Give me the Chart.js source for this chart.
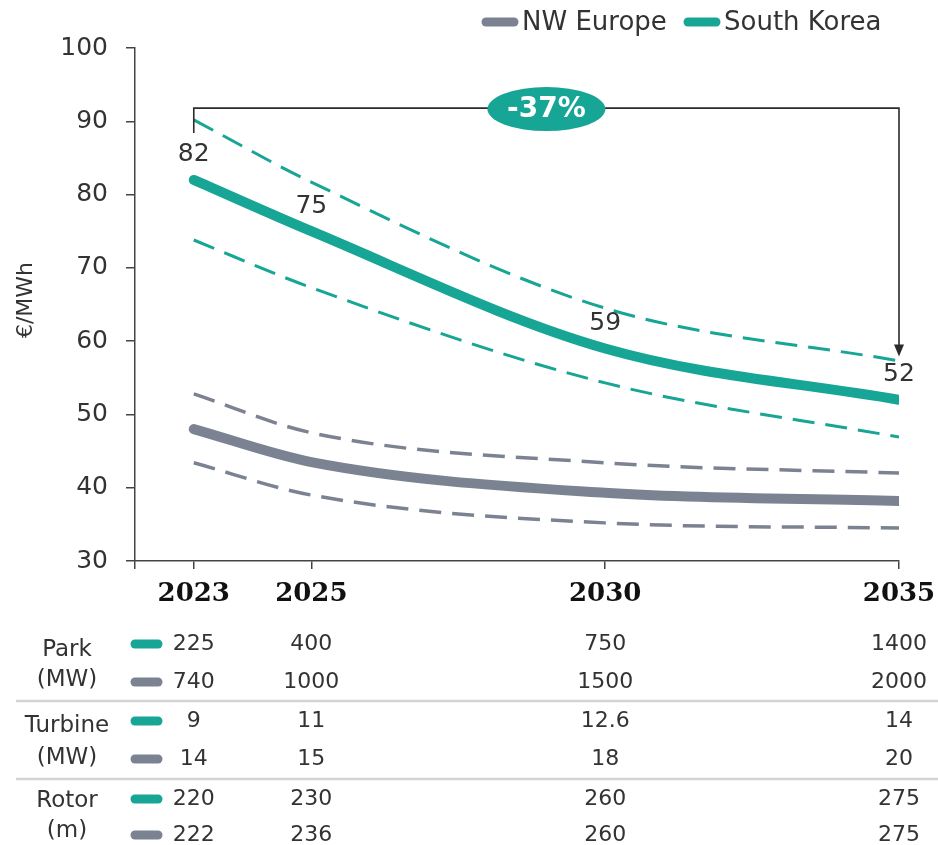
<!DOCTYPE html>
<html>
<head>
<meta charset="utf-8">
<title>Offshore wind LCOE outlook</title>
<script src="https://cdn.jsdelivr.net/npm/chart.js@4/dist/chart.umd.min.js"></script>
<style>
  html, body { margin: 0; padding: 0; background: #ffffff; }
  #wrap { width: 938px; height: 845px; position: relative; }
</style>
</head>
<body>
<div id="wrap"><canvas id="lcoe" width="938" height="845"></canvas></div>
<script>
// Years shown on the axis and in the table columns
const years = [2023, 2025, 2030, 2035];

// Levelised cost of energy, €/MWh (central estimate plus upper/lower band)
const koreaCost  = [82, 75, 59, 52];
const koreaHigh  = [90.2, 81.7, 64.5, 57.3];
const koreaLow   = [73.8, 67.3, 54.3, 46.9];
const europeCost = [48, 43.5, 39.3, 38.2];
const europeHigh = [52.8, 47.5, 43.4, 42.0];
const europeLow  = [43.4, 39.0, 35.2, 34.5];

// Y axis ticks
const costTicks = [30, 40, 50, 60, 70, 80, 90, 100];

// Project parameters table
const parkKorea     = [225, 400, 750, 1400];
const parkEurope    = [740, 1000, 1500, 2000];
const turbineKorea  = [9, 11, 12.6, 14];
const turbineEurope = [14, 15, 18, 20];
const rotorKorea    = [220, 230, 260, 275];
const rotorEurope   = [222, 236, 260, 275];

const groupNames = [['Park', '(MW)'], ['Turbine', '(MW)'], ['Rotor', '(m)']];
const seriesNames = ['NW Europe', 'South Korea'];

const TEAL = '#17a595';
const GREY = '#7b8392';
const INK = '#333333';
const SANS = "'DejaVu Sans', Verdana, sans-serif";

const pts = arr => arr.map((v, i) => ({ x: years[i], y: v }));

function mainLine(label, data, color) {
  return {
    label, data: pts(data), borderColor: color, borderWidth: 10,
    borderCapStyle: 'round', borderJoinStyle: 'round',
    pointRadius: 0, cubicInterpolationMode: 'monotone', clip: 0, order: 0
  };
}
function bandLine(data, color, width) {
  return {
    label: '', data: pts(data), borderColor: color, borderWidth: width,
    borderDash: [22, 11], pointRadius: 0, cubicInterpolationMode: 'monotone',
    clip: 0, order: 1
  };
}

const overlay = {
  id: 'overlay',
  afterDatasetsDraw(chart) {
    const ctx = chart.ctx;
    const xs = chart.scales.x, ys = chart.scales.y;
    ctx.save();

    // value labels on the South Korea line
    ctx.font = '25px ' + SANS;
    ctx.fillStyle = INK;
    ctx.textAlign = 'center';
    ctx.textBaseline = 'middle';
    koreaCost.forEach((v, i) => {
      ctx.fillText(String(v), xs.getPixelForValue(years[i]), ys.getPixelForValue(v) - 25);
    });

    // bracket with arrow showing the 2023→2035 reduction
    const xl = xs.getPixelForValue(years[0]);
    const xr = xs.getPixelForValue(years[years.length - 1]);
    const yTop = ys.getPixelForValue(91.8);
    const yLeft = ys.getPixelForValue(88.4);
    const yTip = ys.getPixelForValue(57.9);
    ctx.strokeStyle = '#2b2b2b';
    ctx.lineWidth = 1.6;
    ctx.beginPath();
    ctx.moveTo(xl, yLeft);
    ctx.lineTo(xl, yTop);
    ctx.lineTo(xr, yTop);
    ctx.lineTo(xr, yTip - 10);
    ctx.stroke();
    ctx.fillStyle = '#2b2b2b';
    ctx.beginPath();
    ctx.moveTo(xr - 5, yTip - 12);
    ctx.lineTo(xr + 5, yTip - 12);
    ctx.lineTo(xr, yTip);
    ctx.closePath();
    ctx.fill();

    // change badge
    const change = Math.round((koreaCost[koreaCost.length - 1] - koreaCost[0]) / koreaCost[0] * 100);
    const bx = xs.getPixelForValue(2029.0);
    ctx.fillStyle = TEAL;
    ctx.beginPath();
    ctx.ellipse(bx, yTop + 1, 59, 22, 0, 0, Math.PI * 2);
    ctx.fill();
    ctx.fillStyle = '#ffffff';
    ctx.font = 'bold 28px ' + SANS;
    ctx.textAlign = 'center';
    ctx.textBaseline = 'middle';
    ctx.fillText(change + '%', bx, yTop + 2);

    ctx.restore();
  },
  afterDraw(chart) {
    const ctx = chart.ctx;
    const xs = chart.scales.x;
    ctx.save();

    // legend
    const legend = [
      { name: seriesNames[0], color: GREY, x: 486 },
      { name: seriesNames[1], color: TEAL, x: 688 }
    ];
    ctx.font = '26px ' + SANS;
    ctx.textBaseline = 'middle';
    ctx.textAlign = 'left';
    legend.forEach(item => {
      ctx.strokeStyle = item.color;
      ctx.lineWidth = 9;
      ctx.lineCap = 'round';
      ctx.beginPath();
      ctx.moveTo(item.x, 22);
      ctx.lineTo(item.x + 28, 22);
      ctx.stroke();
      ctx.fillStyle = INK;
      ctx.fillText(item.name, item.x + 36, 23);
    });

    // y axis title
    ctx.save();
    ctx.translate(26, 300);
    ctx.rotate(-Math.PI / 2);
    ctx.font = '22px ' + SANS;
    ctx.fillStyle = INK;
    ctx.textAlign = 'center';
    ctx.textBaseline = 'middle';
    ctx.fillText('€/MWh', 0, 0);
    ctx.restore();

    // parameters table
    const rows = [
      { vals: parkKorea, color: TEAL, y: 644 },
      { vals: parkEurope, color: GREY, y: 682 },
      { vals: turbineKorea, color: TEAL, y: 721 },
      { vals: turbineEurope, color: GREY, y: 759 },
      { vals: rotorKorea, color: TEAL, y: 799 },
      { vals: rotorEurope, color: GREY, y: 835 }
    ];
    ctx.font = '22px ' + SANS;
    ctx.textAlign = 'center';
    ctx.textBaseline = 'middle';
    rows.forEach(r => {
      ctx.strokeStyle = r.color;
      ctx.lineWidth = 9;
      ctx.lineCap = 'round';
      ctx.beginPath();
      ctx.moveTo(135, r.y);
      ctx.lineTo(158, r.y);
      ctx.stroke();
      ctx.fillStyle = INK;
      r.vals.forEach((v, i) => ctx.fillText(String(v), xs.getPixelForValue(years[i]), r.y));
    });
    ctx.font = '23px ' + SANS;
    const groupY = [[650, 680], [726, 758], [801, 831]];
    groupNames.forEach((g, i) => {
      ctx.fillText(g[0], 67, groupY[i][0]);
      ctx.fillText(g[1], 67, groupY[i][1]);
    });
    ctx.strokeStyle = '#d4d4d4';
    ctx.lineWidth = 2.5;
    ctx.lineCap = 'butt';
    [701, 779].forEach(y => {
      ctx.beginPath();
      ctx.moveTo(16, y);
      ctx.lineTo(938, y);
      ctx.stroke();
    });

    ctx.restore();
  }
};

new Chart(document.getElementById('lcoe'), {
  type: 'line',
  data: {
    datasets: [
      mainLine(seriesNames[1], koreaCost, TEAL),
      mainLine(seriesNames[0], europeCost, GREY),
      bandLine(koreaHigh, TEAL, 3),
      bandLine(koreaLow, TEAL, 3),
      bandLine(europeHigh, GREY, 3.5),
      bandLine(europeLow, GREY, 3.5)
    ]
  },
  options: {
    responsive: false,
    animation: false,
    layout: { padding: { top: 48, right: 39, left: 0, bottom: 0 } },
    plugins: { legend: { display: false }, tooltip: { enabled: false } },
    scales: {
      x: {
        type: 'linear', min: 2022, max: 2035,
        afterBuildTicks: axis => { axis.ticks = [2022, ...years].map(v => ({ value: v })); },
        afterFit: s => { s.height = 284; s.paddingLeft = 0; s.paddingRight = 0; },
        ticks: {
          autoSkip: false, maxRotation: 0, padding: 10, color: '#111111',
          font: { family: "'DejaVu Serif', 'Liberation Serif', serif", size: 26, weight: 'bold' },
          callback: v => years.includes(v) ? String(v) : ''
        },
        grid: { drawOnChartArea: false, drawTicks: true, tickLength: 8, color: '#444444', lineWidth: 1.5 },
        border: { display: true, color: '#444444', width: 1.5 }
      },
      y: {
        min: 30, max: 100,
        afterBuildTicks: axis => { axis.ticks = costTicks.map(v => ({ value: v })); },
        afterFit: s => { s.width = 135; s.paddingTop = 0; s.paddingBottom = 0; },
        ticks: { padding: 18, color: INK, font: { family: SANS, size: 25 } },
        grid: { drawOnChartArea: false, drawTicks: true, tickLength: 9, color: '#444444', lineWidth: 1.5 },
        border: { display: true, color: '#444444', width: 1.5 }
      }
    }
  },
  plugins: [overlay]
});
</script>
</body>
</html>
